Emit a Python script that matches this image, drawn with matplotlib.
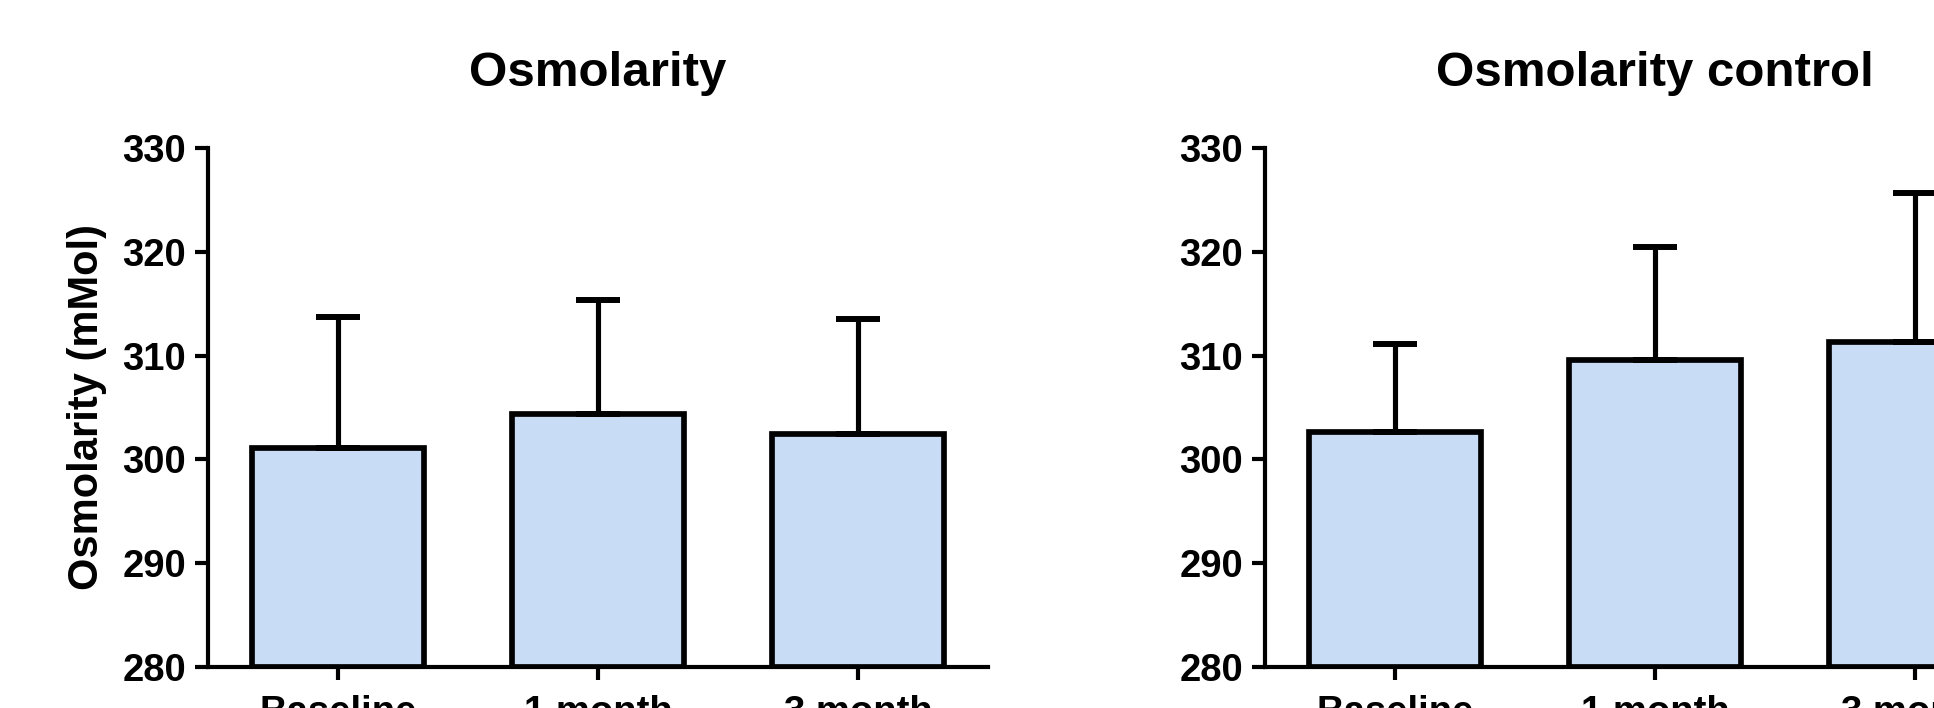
import matplotlib
matplotlib.use("Agg")
import matplotlib.pyplot as plt
import numpy as np

# Group labels and measured osmolarity (mean and upper SD) for each panel
categories = ["Baseline", "1 month", "3 month"]
treated_mean = [301.1, 304.4, 302.4]
treated_upper = [313.7, 315.4, 313.5]
control_mean = [302.6, 309.6, 311.3]
control_upper = [311.1, 320.5, 325.7]
titles = ["Osmolarity", "Osmolarity control"]
y_ticks = [280, 290, 300, 310, 320, 330]
y_label = "Osmolarity (mMol)"

plt.rcParams["font.family"] = ["Liberation Sans", "DejaVu Sans"]
plt.rcParams["font.weight"] = "bold"

W, H, DPI = 1934, 708, 100
fig = plt.figure(figsize=(W / DPI, H / DPI), dpi=DPI)

bar_color = "#C9DCF5"
spine_lw = 3.0
edge_lw = 4.1


def panel(left_px, means, uppers, title, show_ylabel):
    ax_w = 780
    ax = fig.add_axes([left_px / W, (H - 667) / H, ax_w / W, 519 / H])
    x = np.arange(len(categories))
    ax.bar(x, [m - 280 for m in means], bottom=280, width=0.66,
           color=bar_color, edgecolor="black", linewidth=edge_lw, zorder=2)
    err = np.array(uppers) - np.array(means)
    ax.errorbar(x, means, yerr=[np.zeros_like(err), err], fmt="none",
                ecolor="black", elinewidth=3.7, capsize=15.5, capthick=4.3,
                zorder=3)
    ax.set_xlim(-0.5, 2.5)
    ax.set_ylim(280, 330)
    ax.set_yticks(y_ticks)
    ax.set_xticks(x)
    ax.set_xticklabels(categories)
    for s in ("top", "right"):
        ax.spines[s].set_visible(False)
    for s in ("left", "bottom"):
        ax.spines[s].set_linewidth(spine_lw)
        ax.spines[s].set_capstyle("projecting")
    ax.tick_params(axis="both", direction="out", length=9.4, width=spine_lw,
                   labelsize=27.5)
    ax.tick_params(axis="y", pad=6.5)
    ax.tick_params(axis="x", pad=11)
    for lab in ax.get_xticklabels() + ax.get_yticklabels():
        lab.set_fontweight("bold")
    ax.set_title(title, fontsize=35.5, fontweight="bold", pad=45)
    if show_ylabel:
        ax.set_ylabel(y_label, fontsize=30, fontweight="bold")
        ax.yaxis.set_label_coords(-0.1295, 0.5)
    ax.set_facecolor("none")
    return ax


panel(208, treated_mean, treated_upper, titles[0], True)
panel(1265, control_mean, control_upper, titles[1], False)

fig.savefig("out.png", dpi=DPI, facecolor="white")
